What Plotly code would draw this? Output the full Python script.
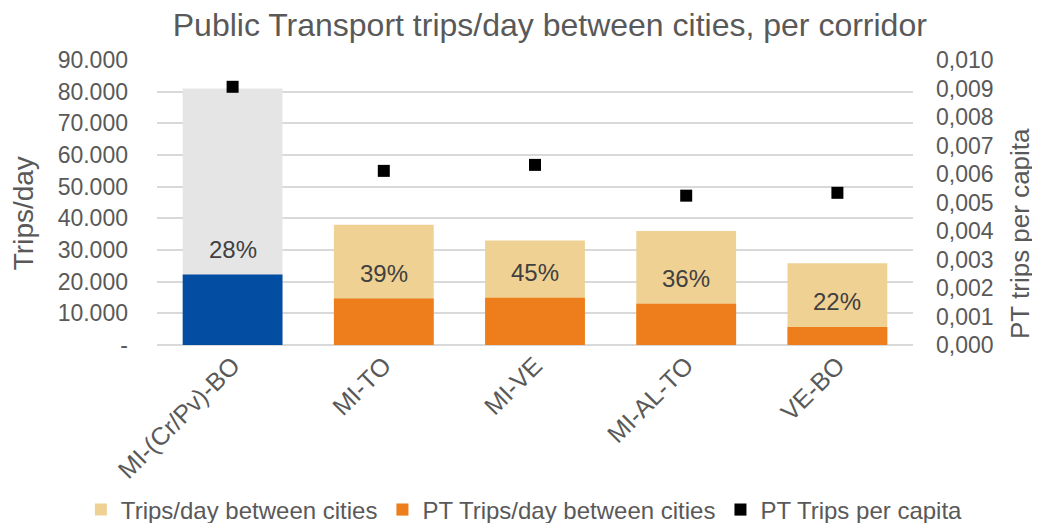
import plotly.graph_objects as go

categories = ["MI-(Cr/Pv)-BO", "MI-TO", "MI-VE", "MI-AL-TO", "VE-BO"]
trips_total = [81000, 38000, 33000, 36000, 25800]
pt_trips = [22300, 14700, 14900, 13000, 5700]
pt_per_capita = [0.00906, 0.00611, 0.00632, 0.00524, 0.00534]
pct_labels = ["28%", "39%", "45%", "36%", "22%"]

left_ticks = [0, 10000, 20000, 30000, 40000, 50000, 60000, 70000, 80000, 90000]
left_ticktext = ["-", "10.000", "20.000", "30.000", "40.000", "50.000",
                 "60.000", "70.000", "80.000", "90.000"]
right_ticks = [0, 0.001, 0.002, 0.003, 0.004, 0.005, 0.006, 0.007, 0.008, 0.009, 0.010]
right_ticktext = ["0,000", "0,001", "0,002", "0,003", "0,004", "0,005",
                  "0,006", "0,007", "0,008", "0,009", "0,010"]

TAN = "#EFD194"
ORANGE = "#EE7D1B"
BLUE = "#034EA2"
GRAY = "#E5E5E5"
TXT = "#595959"
FONT = "Liberation Sans, Arial, sans-serif"

fig = go.Figure()
fig.add_trace(go.Bar(x=categories[1:], y=trips_total[1:], name="Trips/day between cities",
                     marker=dict(color=TAN, line=dict(width=0))))
fig.add_trace(go.Bar(x=categories[:1], y=trips_total[:1], name="Trips/day between cities",
                     marker=dict(color=GRAY, line=dict(width=0)), showlegend=False))
fig.add_trace(go.Bar(x=categories[1:], y=pt_trips[1:], name="PT Trips/day between cities",
                     marker=dict(color=ORANGE, line=dict(width=0))))
fig.add_trace(go.Bar(x=categories[:1], y=pt_trips[:1], name="PT Trips/day between cities",
                     marker=dict(color=BLUE, line=dict(width=0)), showlegend=False))
fig.add_trace(go.Scatter(x=categories, y=pt_per_capita, name="PT Trips per capita",
                         mode="markers", yaxis="y2",
                         marker=dict(symbol="square", size=12, color="#000000")))

for c, v, t in zip(categories, pt_trips, pct_labels):
    fig.add_annotation(x=c, y=v, text=t, showarrow=False, yshift=25,
                       font=dict(size=24, color="#404040", family=FONT))

# axis titles
fig.add_annotation(text="Trips/day", xref="paper", yref="paper", x=-0.177, y=0.463,
                   textangle=-90, showarrow=False, xanchor="center", yanchor="middle",
                   font=dict(size=28, color=TXT, family=FONT))
fig.add_annotation(text="PT trips per capita", xref="paper", yref="paper", x=1.1415, y=0.393,
                   textangle=-90, showarrow=False, xanchor="center", yanchor="middle",
                   font=dict(size=26, color=TXT, family=FONT))

fig.update_layout(
    width=1032, height=515,
    margin=dict(l=149, r=127, t=52, b=178, autoexpand=False),
    paper_bgcolor="white", plot_bgcolor="white",
    barmode="overlay", bargap=0.34,
    font=dict(family=FONT, color=TXT, size=22),
    title=dict(text="Public Transport trips/day between cities, per corridor",
               x=0.525, xanchor="center", y=1 - 17 / 515, yanchor="middle",
               font=dict(size=32, color=TXT, family=FONT)),
    xaxis=dict(tickangle=-45, tickfont=dict(size=25, color=TXT), showgrid=False,
               showline=False, ticks="", automargin=False,
               categoryorder="array", categoryarray=categories),
    yaxis=dict(range=[0, 90000], tickvals=left_ticks, ticktext=left_ticktext,
               tickfont=dict(size=23, color=TXT), showgrid=True, gridcolor="#D9D9D9",
               gridwidth=1.5, zeroline=True, zerolinecolor="#D9D9D9", zerolinewidth=1.5,
               ticks="", ticklabelstandoff=28, automargin=False),
    yaxis2=dict(range=[0, 0.010], tickvals=right_ticks, ticktext=right_ticktext,
                overlaying="y", side="right", showgrid=False, zeroline=False,
                tickfont=dict(size=23, color=TXT), ticks="", ticklabelstandoff=22,
                automargin=False),
    legend=dict(orientation="h", x=-0.1007, xanchor="left", y=-0.579, yanchor="middle",
                font=dict(size=24, color=TXT), traceorder="normal"),
    showlegend=True,
)

fig.write_html("out.html")
